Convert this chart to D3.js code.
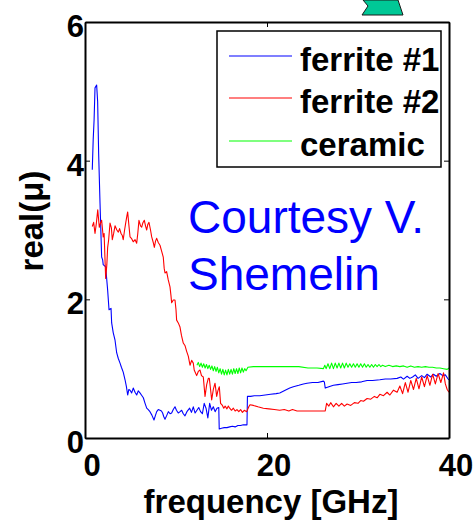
<!DOCTYPE html>
<html>
<head>
<meta charset="utf-8">
<script src="https://cdn.jsdelivr.net/npm/d3@7"></script>
<style>
  html, body { margin: 0; padding: 0; background: #fff; }
  svg { display: block; font-family: "Liberation Sans", Arial, sans-serif; }
</style>
</head>
<body>
<svg id="chart" width="476" height="522"></svg>
<script>
// Permeability, real part, vs. frequency for three absorber materials
const xTicks = [0, 20, 40];
const yTicks = [0, 2, 4, 6];
const seriesNames = ["ferrite #1", "ferrite #2", "ceramic"];
const seriesColors = ["#0000ff", "#ff0000", "#00ff00"];

const ferrite1Freq = [0.8,0.9,1.0,1.1,1.28,1.39,1.5,1.65,1.83,1.94,2.0,2.27,2.49,2.64,2.86,2.93,3.1,3.3,3.48,3.65,3.85,4.0,4.2,4.4,4.55,4.69,4.82,4.95,5.13,5.3,5.5,5.68,5.85,6.04,6.2,6.41,6.6,6.78,6.95,7.14,7.35,7.58,7.75,7.88,8.05,8.24,8.4,8.53,8.65,8.79,9.0,9.16,9.35,9.52,9.7,9.89,10.05,10.25,10.45,10.62,10.8,10.99,11.2,11.5,11.7,11.9,12.1,12.3,12.5,12.7,12.9,13.1,13.3,13.5,13.7,13.9,14.1,14.3,14.5,14.7,14.75,15.0,15.3,15.6,15.9,16.2,16.5,16.8,17.1,17.4,17.7,17.8,17.85,18.2,18.6,19.2,19.8,20.4,21.0,21.4,22.0,22.5,22.9,23.5,24.0,24.4,25.0,25.6,26.2,26.3,26.4,26.8,27.3,27.8,28.3,28.8,29.3,29.8,30.4,31.0,31.6,32.4,33.0,33.6,34.3,34.7,35.0,35.4,35.7,36.0,36.3,36.6,37.0,37.3,37.6,38.0,38.3,38.6,39.0,39.3,39.6,39.9,40.0];
const ferrite1Mu = [3.87,4.3,4.59,5.05,5.09,4.85,4.1,3.39,2.61,2.57,2.5,2.47,2.13,1.85,1.87,1.66,1.52,1.41,1.23,1.15,1.08,1.02,0.95,0.84,0.74,0.62,0.70,0.69,0.65,0.72,0.66,0.62,0.68,0.65,0.62,0.58,0.50,0.43,0.41,0.38,0.33,0.26,0.33,0.38,0.41,0.40,0.39,0.36,0.31,0.27,0.33,0.38,0.35,0.36,0.41,0.45,0.40,0.36,0.38,0.40,0.35,0.32,0.38,0.43,0.37,0.45,0.36,0.40,0.44,0.38,0.35,0.50,0.43,0.29,0.50,0.40,0.45,0.38,0.43,0.44,0.13,0.14,0.15,0.15,0.16,0.17,0.16,0.18,0.18,0.19,0.19,0.19,0.60,0.60,0.61,0.61,0.62,0.63,0.64,0.65,0.69,0.72,0.74,0.76,0.78,0.79,0.80,0.80,0.82,0.81,0.72,0.74,0.76,0.77,0.78,0.79,0.80,0.80,0.81,0.83,0.83,0.84,0.85,0.85,0.86,0.88,0.85,0.89,0.86,0.88,0.91,0.86,0.90,0.87,0.92,0.88,0.92,0.89,0.93,0.90,0.91,0.85,0.84];

const ferrite2Freq = [0.8,0.95,1.1,1.25,1.4,1.57,1.7,1.83,2.0,2.1,2.27,2.4,2.49,2.6,2.75,2.9,3.0,3.15,3.3,3.5,3.66,3.8,3.96,4.1,4.2,4.35,4.47,4.6,4.69,4.8,4.95,5.1,5.3,5.5,5.68,5.8,5.93,6.1,6.23,6.35,6.52,6.65,6.78,6.9,7.03,7.2,7.33,7.5,7.62,7.75,7.88,8.05,8.24,8.45,8.6,8.7,8.79,8.97,9.15,9.34,9.45,9.52,9.7,9.89,10.0,10.07,10.25,10.44,10.6,10.8,11.0,11.17,11.35,11.54,11.72,11.9,12.0,12.27,12.45,12.64,12.8,13.0,13.19,13.37,13.55,13.66,13.8,13.92,14.1,14.29,14.47,14.6,14.76,14.9,15.1,15.25,15.4,15.6,15.75,15.9,16.1,16.3,16.5,16.7,16.9,17.1,17.3,17.5,17.77,18.0,18.13,18.5,19.0,19.6,20.2,20.8,21.4,21.9,22.4,22.8,23.3,24.0,24.6,25.1,25.7,26.2,26.4,26.55,26.8,27.0,27.3,27.6,27.9,28.2,28.5,28.8,29.2,29.6,30.0,30.3,30.6,31.0,31.4,31.8,32.1,32.4,32.8,33.2,33.5,33.9,34.3,34.6,34.9,35.2,35.5,35.8,36.1,36.4,36.7,37.0,37.3,37.6,37.9,38.2,38.5,38.8,39.1,39.4,39.6,39.8,40.0];
const ferrite2Mu = [3.05,3.11,2.95,3.10,3.29,3.04,3.10,3.14,2.90,2.95,2.30,2.50,2.75,2.86,3.10,3.03,2.86,2.95,3.06,3.00,2.97,3.02,2.95,2.92,2.86,3.00,3.10,3.20,3.26,3.10,2.90,2.88,2.83,2.86,2.81,2.95,3.14,3.06,3.04,3.10,3.14,3.06,3.00,3.08,3.11,3.00,2.90,2.82,2.75,2.84,2.88,2.82,2.78,2.68,2.61,2.45,2.38,2.40,2.28,2.18,2.05,1.95,1.99,1.99,1.85,1.70,1.66,1.60,1.48,1.37,1.33,1.25,1.18,1.05,1.12,1.08,0.98,0.90,0.96,0.98,0.90,0.88,0.60,0.77,0.86,0.86,0.70,0.55,0.70,0.79,0.60,0.68,0.74,0.50,0.47,0.43,0.46,0.42,0.46,0.43,0.40,0.43,0.39,0.41,0.38,0.41,0.37,0.40,0.38,0.45,0.48,0.47,0.45,0.43,0.42,0.41,0.40,0.41,0.39,0.41,0.39,0.39,0.39,0.39,0.39,0.39,0.39,0.50,0.46,0.51,0.45,0.50,0.46,0.50,0.46,0.49,0.47,0.51,0.50,0.54,0.53,0.57,0.56,0.60,0.58,0.63,0.61,0.66,0.62,0.69,0.66,0.75,0.64,0.80,0.66,0.83,0.70,0.86,0.71,0.88,0.74,0.90,0.76,0.92,0.78,0.93,0.80,0.94,0.78,0.70,0.66];

const ceramicFreq = [12.3,12.45,12.6,12.75,12.9,13.05,13.2,13.35,13.5,13.65,13.8,13.95,14.1,14.25,14.4,14.55,14.7,14.85,15.0,15.15,15.3,15.45,15.6,15.75,15.9,16.05,16.2,16.35,16.5,16.65,16.8,16.95,17.1,17.25,17.4,17.55,17.7,17.9,18.5,19.5,20.5,21.5,22.5,23.5,24.5,25.5,26.2,26.35,26.5,26.7,26.9,27.1,27.3,27.5,27.7,27.9,28.1,28.3,28.5,28.7,28.9,29.1,29.3,29.5,29.7,29.9,30.1,30.3,30.5,30.7,30.9,31.1,31.3,31.5,31.7,31.9,32.1,32.3,32.5,32.7,33.0,33.4,33.8,34.2,34.6,35.0,35.4,35.8,36.2,36.6,37.0,37.4,37.8,38.2,38.6,39.0,39.4,39.8,40.0];
const ceramicMu = [1.05,1.09,1.03,1.08,1.02,1.07,1.01,1.06,1.00,1.05,0.99,1.04,0.97,1.03,0.96,1.02,0.94,1.00,0.92,0.99,0.91,0.98,0.91,0.99,0.92,0.99,0.92,1.00,0.93,1.00,0.93,1.01,0.94,1.01,0.95,1.00,0.97,1.02,1.03,1.03,1.03,1.03,1.03,1.03,1.01,1.01,1.00,1.05,1.00,1.07,1.00,1.08,1.00,1.08,1.01,1.08,1.01,1.08,1.01,1.08,1.02,1.07,1.02,1.07,1.02,1.07,1.02,1.07,1.02,1.07,1.02,1.06,1.02,1.06,1.02,1.06,1.03,1.06,1.03,1.05,1.03,1.05,1.03,1.04,1.03,1.04,1.02,1.04,1.02,1.03,1.02,1.03,1.02,1.02,1.01,1.01,1.00,0.99,1.01];

const margin = { left: 85, right: 27, top: 22, bottom: 84 };
const W = 476, H = 522;
const x0 = margin.left, x1 = W - margin.right;
const y0 = H - margin.bottom, y1 = margin.top;

const svg = d3.select("#chart");

const x = d3.scaleLinear().domain([0, 40]).range([x0, x1]);
const y = d3.scaleLinear().domain([0, 6]).range([y0, y1]);

// decorative arrow tip poking in above the axes
svg.append("polygon")
  .attr("points", "363,0 368,6 362,15 403,15 398,0")
  .attr("fill", "#00c896")
  .attr("stroke", "#1a1a1a")
  .attr("stroke-width", 1);

svg.append("clipPath").attr("id", "plotClip")
  .append("rect").attr("x", x0).attr("y", y1).attr("width", x1 - x0).attr("height", y0 - y1);

const series = [
  { name: seriesNames[0], color: seriesColors[0], f: ferrite1Freq, v: ferrite1Mu },
  { name: seriesNames[1], color: seriesColors[1], f: ferrite2Freq, v: ferrite2Mu },
  { name: seriesNames[2], color: seriesColors[2], f: ceramicFreq, v: ceramicMu }
];

const line = d3.line().x(d => x(d[0])).y(d => y(d[1]));
const plot = svg.append("g").attr("clip-path", "url(#plotClip)");
// draw order: ferrite #1, ceramic, ferrite #2 on top
[series[0], series[2], series[1]].forEach(s => {
  plot.append("path")
    .datum(s.f.map((f, i) => [f, s.v[i]]))
    .attr("d", line)
    .attr("fill", "none")
    .attr("stroke", s.color)
    .attr("stroke-width", 1.1)
    .attr("stroke-linejoin", "round");
});

// box frame with inward ticks on all four sides
const tickLen = 5;
const axBottom = svg.append("g").attr("transform", `translate(0,${y0})`)
  .call(d3.axisBottom(x).tickValues(xTicks).tickSizeInner(-tickLen).tickSizeOuter(0).tickFormat(""));
const axTop = svg.append("g").attr("transform", `translate(0,${y1})`)
  .call(d3.axisTop(x).tickValues(xTicks).tickSizeInner(-tickLen).tickSizeOuter(0).tickFormat(""));
const axLeft = svg.append("g").attr("transform", `translate(${x0},0)`)
  .call(d3.axisLeft(y).tickValues(yTicks).tickSizeInner(-tickLen).tickSizeOuter(0).tickFormat(""));
const axRight = svg.append("g").attr("transform", `translate(${x1},0)`)
  .call(d3.axisRight(y).tickValues(yTicks).tickSizeInner(-tickLen).tickSizeOuter(0).tickFormat(""));
[axBottom, axTop, axLeft, axRight].forEach(a => {
  a.select(".domain").attr("stroke", "#000").attr("stroke-width", 2);
  a.selectAll(".tick line").attr("stroke", "#000").attr("stroke-width", 1);
});

// tick labels
svg.append("g").selectAll("text").data(yTicks).join("text")
  .attr("x", x0 - 1)
  .attr("y", d => y(d) + 15)
  .attr("text-anchor", "end")
  .attr("font-size", 31).attr("font-weight", "bold")
  .text(d => d);
svg.append("g").selectAll("text").data(xTicks).join("text")
  .attr("x", d => x(d) + 7)
  .attr("y", 476)
  .attr("text-anchor", "middle")
  .attr("font-size", 31).attr("font-weight", "bold")
  .text(d => d);

// axis titles
svg.append("text")
  .attr("x", 271).attr("y", 513)
  .attr("text-anchor", "middle")
  .attr("font-size", 33).attr("font-weight", "bold")
  .text("frequency [GHz]");
svg.append("text")
  .attr("transform", "translate(43,221) rotate(-90)")
  .attr("text-anchor", "middle")
  .attr("font-size", 33).attr("font-weight", "bold")
  .text("real(\u03bc)");

// legend
const legend = svg.append("g");
legend.append("rect")
  .attr("x", 217).attr("y", 31).attr("width", 224).attr("height", 136)
  .attr("fill", "#fff").attr("stroke", "#000").attr("stroke-width", 1.5);
const legendY = [56, 98, 141];
series.forEach((s, i) => {
  legend.append("line")
    .attr("x1", 229).attr("x2", 292)
    .attr("y1", legendY[i]).attr("y2", legendY[i])
    .attr("stroke", s.color).attr("stroke-width", 1.1);
  legend.append("text")
    .attr("x", 300).attr("y", legendY[i] + 15)
    .attr("font-size", 33).attr("font-weight", "bold")
    .text(s.name);
});

// credit note
const note = svg.append("text")
  .attr("x", 188).attr("fill", "#0000ff").attr("font-size", 46);
note.append("tspan").attr("x", 188).attr("y", 233).text("Courtesy V.");
note.append("tspan").attr("x", 188).attr("y", 290).text("Shemelin");
</script>
</body>
</html>
